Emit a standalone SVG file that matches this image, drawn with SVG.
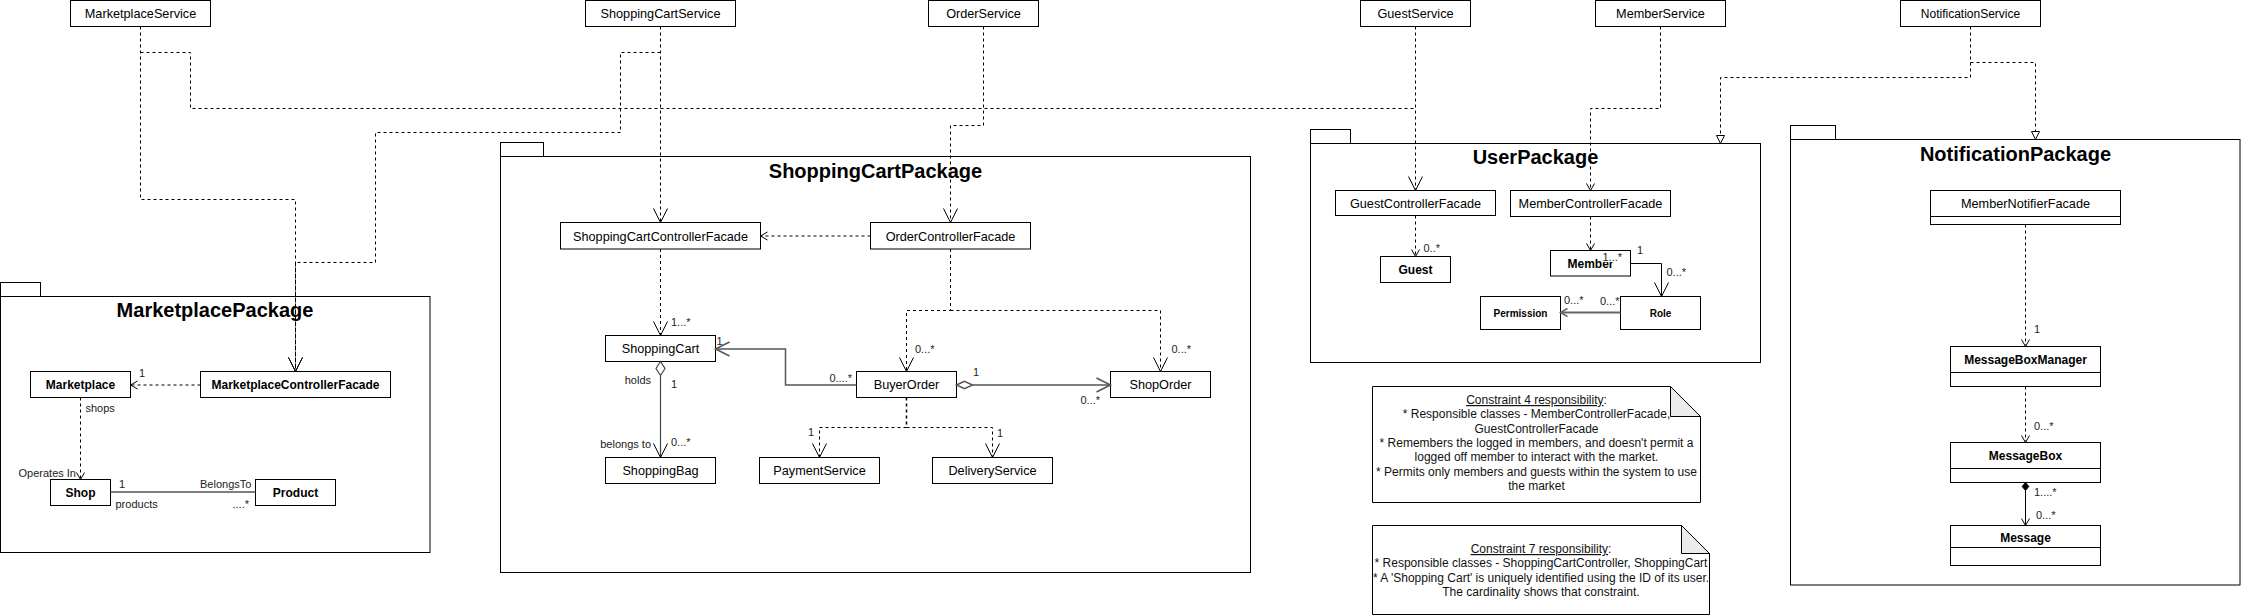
<svg xmlns="http://www.w3.org/2000/svg" width="2241" height="616" viewBox="0 0 2241 616">
<defs>
<style>
text{font-family:"Liberation Sans",Arial,sans-serif}
.box{fill:#fff;stroke:#000;stroke-width:1}
.pkg{fill:#fff;stroke:#000;stroke-width:1}
.cb{font-size:12px;font-weight:bold;text-anchor:middle;fill:#000}
.cr{font-size:12.7px;text-anchor:middle;fill:#000}
.cs{font-size:10px;font-weight:bold;text-anchor:middle;fill:#000}
.title{font-size:20px;font-weight:bold;text-anchor:middle;fill:#000}
.lbl{font-size:11px;fill:#222}
.end{text-anchor:end}
.dash{fill:none;stroke:#000;stroke-width:1;stroke-dasharray:3 3}
.solid{fill:none;stroke:#000;stroke-width:1}
.grey{fill:none;stroke:#555;stroke-width:1.5}
.note{fill:#fff;stroke:#000;stroke-width:1}
.fold{fill:#ebebeb;stroke:#000;stroke-width:1}
.nt{font-size:12px;text-anchor:middle;fill:#111}
</style>
<marker id="aL" markerUnits="userSpaceOnUse" markerWidth="16" markerHeight="16" refX="14" refY="7" orient="auto" overflow="visible"><path d="M0,0 L14,7 L0,14" fill="none" stroke="#000" stroke-width="1"/></marker>
<marker id="aLg" markerUnits="userSpaceOnUse" markerWidth="16" markerHeight="16" refX="14" refY="7" orient="auto" overflow="visible"><path d="M0,0 L14,7 L0,14" fill="none" stroke="#555" stroke-width="1.5"/></marker>
<marker id="aS" markerUnits="userSpaceOnUse" markerWidth="10" markerHeight="10" refX="7" refY="4" orient="auto" overflow="visible"><path d="M0,0 L7,4 L0,8" fill="none" stroke="#000" stroke-width="1"/></marker>
<marker id="aSg" markerUnits="userSpaceOnUse" markerWidth="10" markerHeight="10" refX="7" refY="4" orient="auto" overflow="visible"><path d="M0,0 L7,4 L0,8" fill="none" stroke="#666" stroke-width="1.5"/></marker>
<marker id="tri" markerUnits="userSpaceOnUse" markerWidth="10" markerHeight="10" refX="8" refY="4" orient="auto" overflow="visible"><path d="M0,0 L8,4 L0,8 Z" fill="#fff" stroke="#000" stroke-width="1"/></marker>
</defs>
<rect x="0" y="0" width="2241" height="616" fill="#fff"/>

<!-- Packages -->
<g id="MarketplacePackage">
<rect class="pkg" x="0.5" y="282.5" width="40" height="14"/>
<rect class="pkg" x="0.5" y="296.5" width="429.5" height="256"/>
<text class="title" x="215" y="317">MarketplacePackage</text>
</g>
<g id="ShoppingCartPackage">
<rect class="pkg" x="500.5" y="142.5" width="43" height="14"/>
<rect class="pkg" x="500.5" y="156.5" width="750" height="416"/>
<text class="title" x="875.5" y="178">ShoppingCartPackage</text>
</g>
<g id="UserPackage">
<rect class="pkg" x="1310.5" y="129.5" width="40" height="14"/>
<rect class="pkg" x="1310.5" y="143.5" width="450" height="219"/>
<text class="title" x="1535.5" y="164">UserPackage</text>
</g>
<g id="NotificationPackage">
<rect class="pkg" x="1790.5" y="125.5" width="45" height="14"/>
<rect class="pkg" x="1790.5" y="139.5" width="449.5" height="445.5"/>
<text class="title" x="2015.5" y="161">NotificationPackage</text>
</g>

<!-- Service nodes -->
<g id="MarketplaceService"><rect class="box" x="70.5" y="0.5" width="140" height="26"/><text class="cr" x="140.5" y="18">MarketplaceService</text></g>
<g id="ShoppingCartService"><rect class="box" x="585.5" y="0.5" width="150" height="26"/><text class="cr" x="660.5" y="18">ShoppingCartService</text></g>
<g id="OrderService"><rect class="box" x="928.5" y="0.5" width="110" height="26"/><text class="cr" x="983.5" y="18">OrderService</text></g>
<g id="GuestService"><rect class="box" x="1360.5" y="0.5" width="110" height="26"/><text class="cr" x="1415.5" y="18">GuestService</text></g>
<g id="MemberService"><rect class="box" x="1595.5" y="0.5" width="130" height="26"/><text class="cr" x="1660.5" y="18">MemberService</text></g>
<g id="NotificationService"><rect class="box" x="1900.5" y="0.5" width="140" height="26"/><text class="cr" style="font-size:12px" x="1970.5" y="18">NotificationService</text></g>

<!-- Marketplace package nodes -->
<g id="Marketplace"><rect class="box" x="30.5" y="371.5" width="100" height="26"/><text class="cb" x="80.5" y="389">Marketplace</text></g>
<g id="MarketplaceControllerFacade"><rect class="box" x="200.5" y="371.5" width="190" height="26"/><text class="cb" x="295.5" y="389">MarketplaceControllerFacade</text></g>
<g id="Shop"><rect class="box" x="50.5" y="479.5" width="60" height="26"/><text class="cb" x="80.5" y="497">Shop</text></g>
<g id="Product"><rect class="box" x="255.5" y="479.5" width="80" height="26"/><text class="cb" x="295.5" y="497">Product</text></g>

<!-- ShoppingCart package nodes -->
<g id="ShoppingCartControllerFacade"><rect class="box" x="560.5" y="222.5" width="200" height="26.5"/><text class="cr" x="660.5" y="240.5">ShoppingCartControllerFacade</text></g>
<g id="OrderControllerFacade"><rect class="box" x="870.5" y="222.5" width="160" height="26.5"/><text class="cr" x="950.5" y="240.5">OrderControllerFacade</text></g>
<g id="ShoppingCart"><rect class="box" x="605.5" y="335.5" width="110" height="26"/><text class="cr" x="660.5" y="353">ShoppingCart</text></g>
<g id="BuyerOrder"><rect class="box" x="856.5" y="371.5" width="100" height="26"/><text class="cr" x="906.5" y="389">BuyerOrder</text></g>
<g id="ShopOrder"><rect class="box" x="1110.5" y="371.5" width="100" height="26"/><text class="cr" x="1160.5" y="389">ShopOrder</text></g>
<g id="ShoppingBag"><rect class="box" x="605.5" y="457.5" width="110" height="26"/><text class="cr" x="660.5" y="475">ShoppingBag</text></g>
<g id="PaymentService"><rect class="box" x="759.5" y="457.5" width="120" height="26"/><text class="cr" x="819.5" y="475">PaymentService</text></g>
<g id="DeliveryService"><rect class="box" x="932.5" y="457.5" width="120" height="26"/><text class="cr" x="992.5" y="475">DeliveryService</text></g>

<!-- User package nodes -->
<g id="GuestControllerFacade"><rect class="box" x="1335.5" y="190.5" width="160" height="25"/><text class="cr" x="1415.5" y="207.5">GuestControllerFacade</text></g>
<g id="MemberControllerFacade"><rect class="box" x="1510.5" y="190.5" width="160" height="26"/><text class="cr" x="1590.5" y="208">MemberControllerFacade</text></g>
<g id="Guest"><rect class="box" x="1380.5" y="256.5" width="70" height="26"/><text class="cb" x="1415.5" y="274">Guest</text></g>
<g id="Member"><rect class="box" x="1550.5" y="250.5" width="80" height="25.5"/><text class="cb" x="1590.5" y="268">Member</text></g>
<g id="Permission"><rect class="box" x="1480.5" y="296.5" width="80" height="33"/><text class="cs" x="1520.5" y="316.5">Permission</text></g>
<g id="Role"><rect class="box" x="1620.5" y="296.5" width="80" height="33"/><text class="cs" x="1660.5" y="316.5">Role</text></g>

<!-- Notification package nodes -->
<g id="MemberNotifierFacade"><rect class="box" x="1930.5" y="190.5" width="190" height="34"/><line class="solid" x1="1930.5" y1="216.5" x2="2120.5" y2="216.5"/><text class="cr" x="2025.5" y="207.5">MemberNotifierFacade</text></g>
<g id="MessageBoxManager"><rect class="box" x="1950.5" y="346.5" width="150" height="40"/><line class="solid" x1="1950.5" y1="372.5" x2="2100.5" y2="372.5"/><text class="cb" x="2025.5" y="364">MessageBoxManager</text></g>
<g id="MessageBox"><rect class="box" x="1950.5" y="442.5" width="150" height="40"/><line class="solid" x1="1950.5" y1="468.5" x2="2100.5" y2="468.5"/><text class="cb" x="2025.5" y="460">MessageBox</text></g>
<g id="Message"><rect class="box" x="1950.5" y="525.5" width="150" height="40"/><line class="solid" x1="1950.5" y1="547.5" x2="2100.5" y2="547.5"/><text class="cb" x="2025.5" y="542">Message</text></g>

<!-- Notes -->
<g id="Constraint4Note">
<path class="note" d="M1372.5,386.5 H1670.5 L1700.5,416.5 V502.5 H1372.5 Z"/>
<path class="fold" d="M1670.5,386.5 V416.5 H1700.5 Z"/>
<text class="nt" x="1536.5" y="404"><tspan style="text-decoration:underline">Constraint 4 responsibility</tspan>:</text>
<text class="nt" x="1536.5" y="418.3">* Responsible classes - MemberControllerFacade,</text>
<text class="nt" x="1536.5" y="432.6">GuestControllerFacade</text>
<text class="nt" x="1536.5" y="446.9">* Remembers the logged in members, and doesn't permit a</text>
<text class="nt" x="1536.5" y="461.2">logged off member to interact with the market.</text>
<text class="nt" x="1536.5" y="475.5">* Permits only members and guests within the system to use</text>
<text class="nt" x="1536.5" y="489.8">the market</text>
</g>
<g id="Constraint7Note">
<path class="note" d="M1372.5,525.5 H1681.5 L1709.5,553.5 V614.5 H1372.5 Z"/>
<path class="fold" d="M1681.5,525.5 V553.5 H1709.5 Z"/>
<text class="nt" x="1541" y="553"><tspan style="text-decoration:underline">Constraint 7 responsibility</tspan>:</text>
<text class="nt" x="1541" y="567.3">* Responsible classes - ShoppingCartController, ShoppingCart</text>
<text class="nt" x="1541" y="581.6">* A 'Shopping Cart' is uniquely identified using the ID of its user.</text>
<text class="nt" x="1541" y="595.9">The cardinality shows that constraint.</text>
</g>

<!-- Connectors -->
<g id="connectors">
<path class="dash" d="M140.5,26.5 V199.5 H295.5 V371.5" marker-end="url(#aL)"/>
<path class="dash" d="M140.5,52.5 H190.5 V108.5 H1415.5"/>
<path class="dash" d="M660.5,26.5 V222.5" marker-end="url(#aL)"/>
<path class="dash" d="M660.5,52.5 H620.5 V132.5 H375.5 V262.5 H295.5 V371.5" marker-end="url(#aL)"/>
<path class="dash" d="M983.5,26.5 V125.5 H950.5 V222.5" marker-end="url(#aL)"/>
<path class="dash" d="M1415.5,26.5 V190.5" marker-end="url(#aL)"/>
<path class="dash" d="M1660.5,26.5 V108.5 H1590.5 V190.5" marker-end="url(#aS)"/>
<path class="dash" d="M1970.5,26.5 V62.5 H2035.5 V139.5" marker-end="url(#tri)"/>
<path class="dash" d="M1970.5,62.5 V77.5 H1720.5 V143.5" marker-end="url(#tri)"/>

<!-- Marketplace package -->
<path class="dash" d="M200.5,385 H130.5" marker-end="url(#aS)"/>
<text class="lbl" x="139" y="377">1</text>
<path class="dash" d="M80.5,397.5 V479.5" marker-end="url(#aS)"/>
<text class="lbl" x="85.5" y="412">shops</text>
<text class="lbl end" x="76" y="477">Operates In</text>
<path class="grey" d="M110.5,492 H255.5"/>
<text class="lbl" x="119" y="488">1</text>
<text class="lbl" x="115.5" y="507.5">products</text>
<text class="lbl" x="200" y="488">BelongsTo</text>
<text class="lbl end" x="249" y="508" fill="#777">....*</text>

<!-- ShoppingCart package -->
<path class="dash" d="M870.5,236 H760.5" marker-end="url(#aS)"/>
<path class="dash" d="M660.5,249 V335.5" marker-end="url(#aL)"/>
<text class="lbl" x="671" y="326">1...*</text>
<path class="dash" d="M950.5,249 V310.5 H906.5 V371.5" marker-end="url(#aL)"/>
<path class="dash" d="M950.5,310.5 H1160.5 V371.5" marker-end="url(#aL)"/>
<text class="lbl" x="915" y="353">0...*</text>
<text class="lbl" x="1171.5" y="353">0...*</text>
<path class="grey" d="M856.5,385 H785.5 V349 H715.5" marker-end="url(#aLg)"/>
<text class="lbl" x="716.5" y="345">1</text>
<text class="lbl end" x="852" y="382">0....*</text>
<polygon points="956.5,385 964.5,381.3 972.5,385 964.5,388.7" fill="#fff" stroke="#555" stroke-width="1.5"/>
<path class="grey" d="M972.5,385 H1110.5" marker-end="url(#aLg)"/>
<text class="lbl" x="973" y="376">1</text>
<text class="lbl" x="1080.5" y="403.5">0...*</text>
<polygon points="660.5,361.5 665,368.5 660.5,375.5 656,368.5" fill="#fff" stroke="#444" stroke-width="1.2"/>
<path class="grey" style="stroke:#444;stroke-width:1.2" d="M660.5,375.5 V457.5" marker-end="url(#aL)"/>
<text class="lbl end" x="651" y="384">holds</text>
<text class="lbl" x="671" y="388">1</text>
<text class="lbl end" x="651" y="448">belongs to</text>
<text class="lbl" x="671" y="446">0...*</text>
<path class="dash" style="stroke-width:1.5" d="M906.5,397.5 V427.5"/>
<path class="dash" d="M906.5,427.5 H819.5 V457.5" marker-end="url(#aL)"/>
<path class="dash" d="M906.5,427.5 H992.5 V457.5" marker-end="url(#aL)"/>
<text class="lbl end" x="814" y="436">1</text>
<text class="lbl" x="997" y="437">1</text>

<!-- User package -->
<path class="dash" d="M1415.5,215.5 V256.5" marker-end="url(#aS)"/>
<text class="lbl" x="1423.5" y="251.5">0..*</text>
<path class="dash" d="M1590.5,216.5 V250.5" marker-end="url(#aS)"/>
<path class="solid" d="M1630.5,263.5 H1661.5 V296.5" marker-end="url(#aL)"/>
<rect x="1602" y="252" width="21" height="10" fill="#fff"/>
<text class="lbl" x="1602.5" y="260.5">1...*</text>
<text class="lbl" x="1637" y="253.5">1</text>
<text class="lbl" x="1666.5" y="275.5">0...*</text>
<path class="grey" style="stroke:#666;stroke-width:2" d="M1620.5,312.5 H1560.5" marker-end="url(#aSg)"/>
<text class="lbl" x="1564" y="304">0...*</text>
<text class="lbl" x="1600" y="305">0...*</text>

<!-- Notification package -->
<path class="dash" d="M2025.5,224.5 V346.5" marker-end="url(#aS)"/>
<text class="lbl" x="2034" y="333">1</text>
<path class="dash" d="M2025.5,386.5 V442.5" marker-end="url(#aS)"/>
<text class="lbl" x="2034" y="430">0...*</text>
<polygon points="2025.5,482.5 2028.8,486.5 2025.5,490.5 2022.2,486.5" fill="#000" stroke="#000" stroke-width="1"/>
<path class="solid" d="M2025.5,490.5 V525.5" marker-end="url(#aS)"/>
<text class="lbl" x="2034" y="496">1....*</text>
<text class="lbl" x="2036" y="518.5">0...*</text>
</g>
</svg>
